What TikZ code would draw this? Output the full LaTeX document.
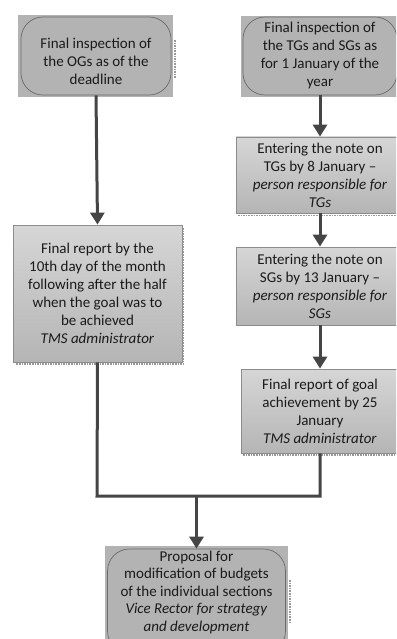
\documentclass[tikz,border=0pt]{standalone}
\usepackage{fontspec}
\setmainfont{Carlito}
\usetikzlibrary{arrows.meta}
\definecolor{boxgrey}{HTML}{B3B3B3}
\definecolor{outlinegrey}{HTML}{6A6A6A}
\definecolor{edgegrey}{HTML}{8C8C8C}
\definecolor{gradtop}{HTML}{D6D6D6}
\definecolor{gradbot}{HTML}{B5B5B5}
\definecolor{flowgrey}{HTML}{454545}
\definecolor{inkgrey}{HTML}{1A1A1A}
\tikzset{
  txt/.style={font=\fontsize{15}{18}\selectfont, align=center, text=inkgrey, inner sep=0pt},
  roundbox/.style={draw=outlinegrey, line width=0.7pt, rounded corners=22pt, inner sep=0pt},
  rectbox/.style={txt, draw=edgegrey, line width=0.8pt, top color=gradtop, bottom color=gradbot},
  flow/.style={draw=flowgrey, line width=3pt},
  flowarrow/.style={flow, -{Triangle[width=14pt,length=12pt]}},
  shadowline/.style={draw=gray!80, densely dotted, line width=1.6pt}
}
\begin{document}
\begin{tikzpicture}[x=1pt,y=-1pt]
\useasboundingbox (0,0) rectangle (396,639);
\clip (0,0) rectangle (396,639);

% flat backgrounds of the rounded boxes
\fill[boxgrey] (18,15) rectangle (173,97);
\fill[boxgrey] (241,16) rectangle (400,97);
\fill[boxgrey] (105,546) rectangle (288,660);

% left column
\node[roundbox, minimum width=150pt, minimum height=78pt] (ogs) at (96,56) {};
\node[txt] (ogstext) at (96,61) {Final inspection of\\the OGs as of the\\deadline};
\draw[shadowline] (175,40) -- (175,78);

\node[rectbox, minimum width=169pt, minimum height=137pt] (halfrep) at (97.5,293.5)
  {Final report by the\\10th day of the month\\following after the half\\when the goal was to\\be achieved\\\textit{TMS administrator}};
\draw[shadowline] (183.5,228) -- (183.5,364) -- (16,364);

% right column
\node[roundbox, minimum width=154pt, minimum height=78pt] (tgsgs) at (320,56) {};
\node[txt] (tgsgstext) at (320,56) {Final inspection of\\the TGs and SGs as\\for 1 January of the\\year};

\node[rectbox, minimum width=168pt, minimum height=76pt] (notetg) at (320,175)
  {Entering the note on\\TGs by 8 January --\\\textit{person responsible for}\\\textit{TGs}};
\draw[shadowline] (238,215.5) -- (396,215.5);

\node[rectbox, minimum width=168pt, minimum height=78pt] (notesg) at (320,286)
  {Entering the note on\\SGs by 13 January --\\\textit{person responsible for}\\\textit{SGs}};

\node[rectbox, minimum width=158pt, minimum height=84pt] (finalrep) at (320,411)
  {Final report of goal\\achievement by 25\\January\\\textit{TMS administrator}};
\draw[shadowline] (243,455) -- (396,455);

% merged result
\node[roundbox, minimum width=178pt, minimum height=104pt] (budget) at (196.5,601) {};
\node[txt, font=\fontsize{15}{17.5}\selectfont] (budgettext) at (196.5,592)
  {Proposal for\\modification of budgets\\of the individual sections\\\textit{Vice Rector for strategy}\\\textit{and development}};
\draw[shadowline] (290,580) -- (290,622);

% connectors
\coordinate (join) at (97,496);
\coordinate (joinR) at (320,496);
\coordinate (joinM) at (196.5,496);

\draw[flowarrow] (ogs.south) -- (halfrep.north);
\draw[flowarrow] (tgsgs.south) -- (notetg.north);
\draw[flowarrow] (notetg.south) -- (notesg.north);
\draw[flowarrow] (notesg.south) -- (finalrep.north);
\draw[flow] (halfrep.south) -- (join) -- (joinR) -- (finalrep.south);
\draw[flowarrow] (joinM) -- (budget.north);
\end{tikzpicture}
\end{document}
